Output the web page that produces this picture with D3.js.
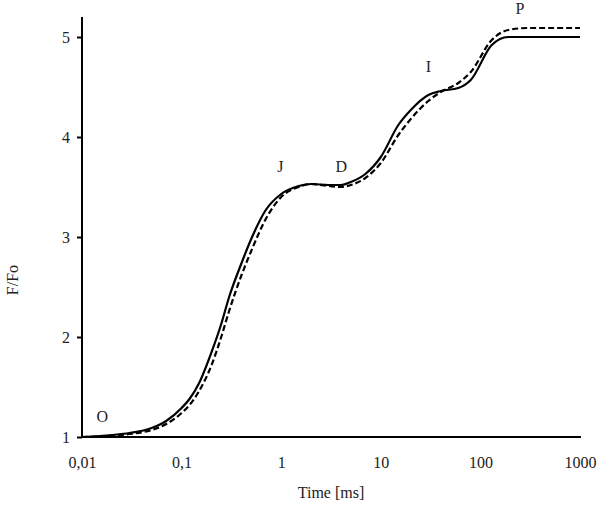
<!DOCTYPE html>
<html><head><meta charset="utf-8">
<script src="https://cdn.jsdelivr.net/npm/d3@7"></script>
<style>body{margin:0;background:#fff}text{font-family:"Liberation Serif","Times New Roman",serif}</style>
</head><body><svg id="c" width="600" height="505"></svg>
<script>
const times = [0.01,0.02,0.03,0.05,0.07,0.1,0.12,0.15,0.2,0.25,0.3,0.4,0.5,0.7,1,1.5,2,3,4,5,7,10,15,20,30,40,60,80,130,190,300,500,1000];
const solid = [1.00,1.02,1.04,1.09,1.16,1.29,1.38,1.54,1.85,2.13,2.40,2.74,2.98,3.27,3.43,3.51,3.53,3.52,3.52,3.55,3.63,3.80,4.12,4.27,4.42,4.46,4.49,4.57,4.92,5.00,5.00,5.00,5.00];
const dashed = [1.00,1.01,1.03,1.07,1.13,1.24,1.32,1.46,1.72,2.00,2.26,2.62,2.86,3.18,3.40,3.50,3.53,3.51,3.50,3.52,3.59,3.74,4.02,4.18,4.36,4.45,4.54,4.65,4.97,5.07,5.09,5.09,5.09];
const xTicks = [0.01,0.1,1,10,100,1000];
const xTickLabels = ["0,01","0,1","1","10","100","1000"];
const yTicks = [1,2,3,4,5];
const phaseLabels = [{t:0.016,v:1.19,s:"O"},{t:0.98,v:3.69,s:"J"},{t:4.0,v:3.69,s:"D"},{t:30,v:4.69,s:"I"},{t:250,v:5.27,s:"P"}];

const svg = d3.select("#c");
const x = d3.scaleLog().domain([0.01,1000]).range([82,580]);
const y = d3.scaleLinear().domain([1,5.2]).range([437,17]);

// y axis
const ya = svg.append("g").attr("transform","translate(82,0)")
  .call(d3.axisLeft(y).tickValues(yTicks).tickSize(5).tickPadding(7).tickFormat(d3.format("d")));
ya.select(".domain").attr("d","M0,17V437").attr("stroke","#000").attr("stroke-width",2);
ya.selectAll(".tick line").attr("stroke","#000").attr("stroke-width",2);
ya.selectAll("text").attr("font-size",16).attr("fill","#222").style("font-family","'Liberation Serif',serif");

// x axis
const xa = svg.append("g").attr("transform","translate(0,437)")
  .call(d3.axisBottom(x).tickValues(xTicks).tickSize(0).tickPadding(20).tickFormat((d,i)=>xTickLabels[i]));
xa.select(".domain").attr("d","M82,0H581").attr("stroke","#000").attr("stroke-width",2);
xa.selectAll("text").attr("font-size",16).attr("fill","#222").style("font-family","'Liberation Serif',serif");

const line = d3.line().x((d,i)=>x(times[i])).y(d=>y(d)).curve(d3.curveMonotoneX);
svg.append("path").attr("d",line(dashed)).attr("fill","none").attr("stroke","#000").attr("stroke-width",2.2).attr("stroke-dasharray","6,3");
svg.append("path").attr("d",line(solid)).attr("fill","none").attr("stroke","#000").attr("stroke-width",2.2);

svg.selectAll(".pl").data(phaseLabels).enter().append("text")
  .attr("x",d=>x(d.t)).attr("y",d=>y(d.v)).attr("text-anchor","middle").attr("dominant-baseline","middle")
  .attr("font-size",16).attr("fill","#222").text(d=>d.s);

svg.append("text").attr("x",331).attr("y",498).attr("text-anchor","middle").attr("font-size",16).attr("fill","#222").text("Time [ms]");
svg.append("text").attr("transform","translate(18,280) rotate(-90)").attr("text-anchor","middle").attr("font-size",16).attr("fill","#222").text("F/Fo");
</script></body></html>
